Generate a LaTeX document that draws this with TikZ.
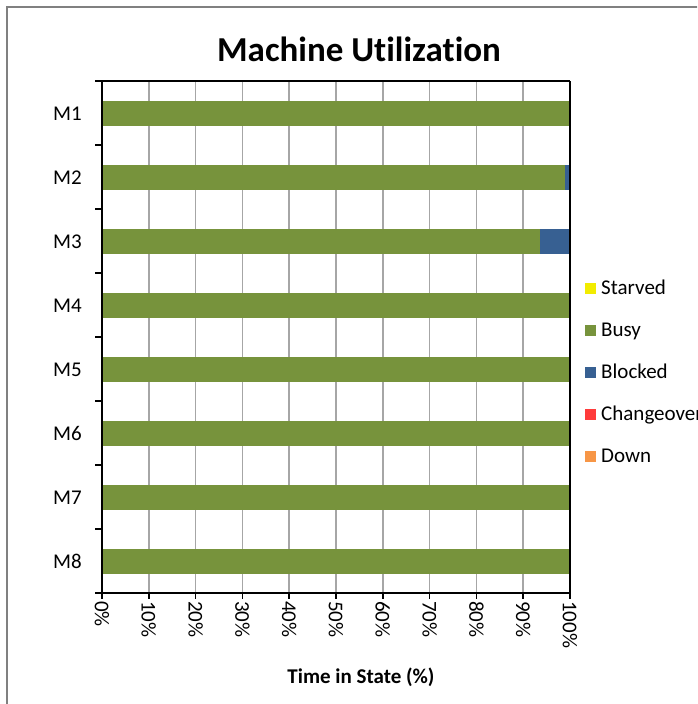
\documentclass[tikz,border=0pt]{standalone}
\usepackage{fontspec}
\setmainfont{Carlito}[Ligatures=NoCommon]
\definecolor{busy}{HTML}{77933C}
\definecolor{blocked}{HTML}{376092}
\definecolor{starved}{HTML}{F2EC00}
\definecolor{changeover}{HTML}{FF3B3B}
\definecolor{down}{HTML}{F79646}
\definecolor{gridgray}{HTML}{A6A6A6}
\begin{document}
\begin{tikzpicture}[x=1pt,y=-1pt,
    lbl/.style={inner sep=0pt,font=\fontsize{21}{25}\selectfont},
    axisline/.style={black,line width=1.6pt},
    gridline/.style={gridgray,line width=1.6pt}]
  \useasboundingbox (0,0) rectangle (697,704);
  \clip (0,0) rectangle (697,704);
  \draw[gray,line width=2pt] (7,7) rectangle (720,720);

  \node[inner sep=0pt,anchor=base,font=\bfseries\fontsize{35}{42}\selectfont] (title) at (359,61) {Machine Utilization};

  % vertical grid
  \foreach \i in {1,...,9}
    \draw[gridline] (102+46.8*\i,81) -- (102+46.8*\i,593);

  % bars: busy share, the rest blocked
  \foreach \k/\b in {1/100,2/98.9,3/93.6,4/100,5/100,6/100,7/100,8/100} {
    \fill[busy] (102,100.5+64*\k-64) rectangle (102+4.68*\b,125.5+64*\k-64);
    \fill[blocked] (102+4.68*\b,100.5+64*\k-64) rectangle (570,125.5+64*\k-64);
    \node[lbl,anchor=base east] (m\k) at (82,120+64*\k-64) {M\k};
  }

  % axes
  \draw[axisline] (95,81) -- (570,81);
  \draw[axisline] (570,81) -- (570,593);
  \draw[axisline] (102,81) -- (102,593) -- (570,593);
  \foreach \k in {0,...,8}
    \draw[axisline] (95,81+64*\k) -- (102,81+64*\k);
  \foreach \i in {0,...,10} {
    \pgfmathtruncatemacro\pct{10*\i}
    \draw[axisline] (102+46.8*\i,593) -- (102+46.8*\i,599);
    \node[lbl,rotate=-90,anchor=west] (t\i) at (102+46.8*\i,601) {\pct\%};
  }
  \node[inner sep=0pt,anchor=base,font=\bfseries\fontsize{21}{25}\selectfont] (xtitle) at (361,683) {Time in State (\%)};

  % legend
  \foreach \n/\c [count=\j] in {Starved/starved,Busy/busy,Blocked/blocked,Changeover/changeover,Down/down} {
    \fill[\c] (584.5,282.5+42*\j-42) rectangle ++(11.5,11.5);
    \node[lbl,anchor=base west] (leg\j) at (601,294.5+42*\j-42) {\n};
  }
\end{tikzpicture}
\end{document}
